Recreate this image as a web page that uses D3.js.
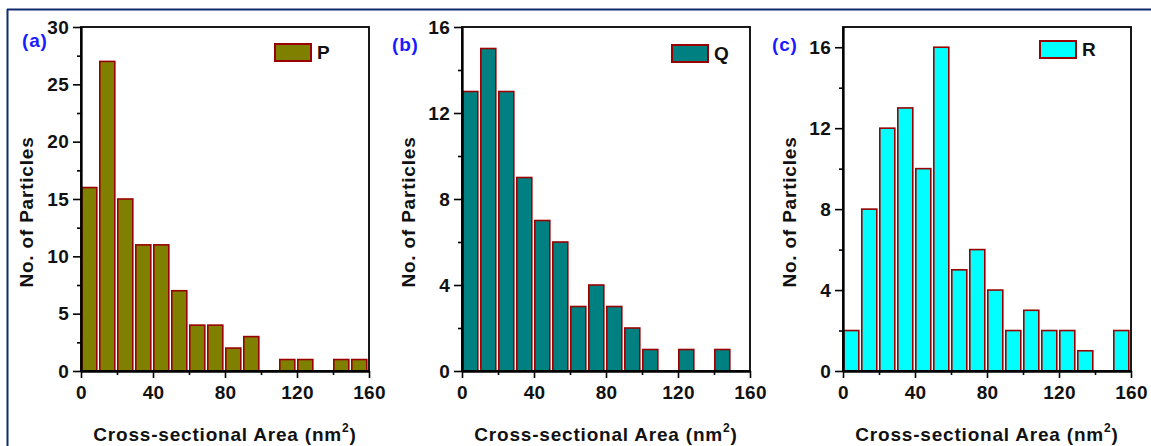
<!DOCTYPE html>
<html>
<head>
<meta charset="utf-8">
<script src="https://cdn.jsdelivr.net/npm/d3@7"></script>
<style>
  html, body { margin: 0; padding: 0; background: #fff; }
  svg { display: block; }
  text { font-family: 'Liberation Sans', Arial, sans-serif; font-weight: bold; letter-spacing: 0.8px; }
</style>
</head>
<body>
<svg id="chart"></svg>
<script>
'use strict'

// bin starts (nm^2), width 10
const binStarts = [0, 10, 20, 30, 40, 50, 60, 70, 80, 90, 100, 110, 120, 130, 140, 150]
const countsP = [16, 27, 15, 11, 11, 7, 4, 4, 2, 3, 0, 1, 1, 0, 1, 1]
const countsQ = [13, 15, 13, 9, 7, 6, 3, 4, 3, 2, 1, 0, 1, 0, 1, 0]
const countsR = [2, 8, 12, 13, 10, 16, 5, 6, 4, 2, 3, 2, 2, 1, 0, 2]
const xTicks = [0, 40, 80, 120, 160]
const xMinorTicks = [20, 60, 100, 140]
const yTicksP = [0, 5, 10, 15, 20, 25, 30]
const yMinorP = [2.5, 7.5, 12.5, 17.5, 22.5, 27.5]
const yTicksQR = [0, 4, 8, 12, 16]
const yMinorQR = [2, 6, 10, 14]
const seriesNames = ['P', 'Q', 'R']
const panelTags = ['(a)', '(b)', '(c)']

const width = 1151
const height = 446
const barStroke = '#990000'
const plotTop = 27
const plotBottom = 371
const fontSize = '19px'

const svg = d3.select('#chart')
  .attr('width', width)
  .attr('height', height)

// page frame lines
svg.append('line')
  .attr('x1', 7).attr('x2', width).attr('y1', 9.5).attr('y2', 9.5)
  .attr('stroke', '#0f2b6e').attr('stroke-width', 2)
svg.append('line')
  .attr('x1', 7.5).attr('x2', 7.5).attr('y1', 9).attr('y2', height)
  .attr('stroke', '#0f2b6e').attr('stroke-width', 2)

const panels = [
  { counts: countsP, fill: '#808000', yMax: 30, yTicks: yTicksP, yMinor: yMinorP, left: 81, right: 369, tagX: 22, tagY: 47, yLabelX: 26, legend: [275, 44] },
  { counts: countsQ, fill: '#008080', yMax: 16, yTicks: yTicksQR, yMinor: yMinorQR, left: 462, right: 750, tagX: 392, tagY: 51, yLabelX: 408, legend: [672, 45] },
  { counts: countsR, fill: '#00ffff', yMax: 17, yTicks: yTicksQR, yMinor: yMinorQR, left: 843, right: 1131, tagX: 772, tagY: 51, yLabelX: 789, legend: [1040, 41] }
]

panels.forEach((p, i) => drawPanel(p, i))

function drawPanel (p, i) {
  const g = svg.append('g')
  const x = d3.scaleLinear().domain([0, 160]).range([p.left, p.right])
  const y = d3.scaleLinear().domain([0, p.yMax]).range([plotBottom, plotTop])

  // bars
  g.selectAll('rect.bar')
    .data(binStarts.map((b, k) => ({ b, v: p.counts[k] })).filter(d => d.v > 0))
    .enter().append('rect')
    .attr('class', 'bar')
    .attr('x', d => x(d.b) + 0.8)
    .attr('width', d => x(d.b + 10) - x(d.b) - 3)
    .attr('y', d => y(d.v))
    .attr('height', d => y(0) - y(d.v))
    .attr('fill', p.fill)
    .attr('stroke', barStroke)
    .attr('stroke-width', 1.6)

  // frame
  g.append('rect')
    .attr('x', p.left).attr('y', plotTop)
    .attr('width', p.right - p.left).attr('height', plotBottom - plotTop)
    .attr('fill', 'none').attr('stroke', '#000').attr('stroke-width', 1.8)

  // axes
  const xAxis = g.append('g')
    .attr('transform', `translate(0,${plotBottom})`)
    .call(d3.axisBottom(x).tickValues(xTicks).tickSize(7).tickSizeOuter(0).tickPadding(8))
  const xMinor = g.append('g')
    .attr('transform', `translate(0,${plotBottom})`)
    .call(d3.axisBottom(x).tickValues(xMinorTicks).tickSize(4).tickSizeOuter(0).tickFormat(''))
  const yAxis = g.append('g')
    .attr('transform', `translate(${p.left},0)`)
    .call(d3.axisLeft(y).tickValues(p.yTicks).tickSize(8).tickSizeOuter(0).tickPadding(4))
  const yMinor = g.append('g')
    .attr('transform', `translate(${p.left},0)`)
    .call(d3.axisLeft(y).tickValues(p.yMinor).tickSize(4).tickSizeOuter(0).tickFormat(''))

  ;[xAxis, xMinor, yAxis, yMinor].forEach(a => {
    a.select('.domain').attr('stroke', '#000').attr('stroke-width', 1.8)
    a.selectAll('.tick line').attr('stroke', '#000').attr('stroke-width', 1.6)
    a.selectAll('.tick text')
      .attr('fill', '#111')
      .style('font-size', fontSize)
      .style('letter-spacing', '0.3px')
      .style('font-family', "'Liberation Sans', Arial, sans-serif")
      .style('font-weight', 'bold')
  })

  // axis titles
  g.append('text')
    .attr('transform', `translate(${p.yLabelX},${(plotTop + plotBottom) / 2 + 13}) rotate(-90)`)
    .attr('text-anchor', 'middle')
    .attr('dominant-baseline', 'central')
    .attr('fill', '#111')
    .style('font-size', fontSize)
    .text('No. of Particles')

  const xt = g.append('text')
    .attr('x', (p.left + p.right) / 2)
    .attr('y', 441)
    .attr('text-anchor', 'middle')
    .attr('fill', '#111')
    .style('font-size', fontSize)
  xt.append('tspan').text('Cross-sectional Area (nm')
  xt.append('tspan').attr('dy', -9).style('font-size', '12px').text('2')
  xt.append('tspan').attr('dy', 9).text(')')

  // panel tag
  g.append('text')
    .attr('x', p.tagX).attr('y', p.tagY)
    .attr('fill', '#1a1aff')
    .style('font-size', fontSize)
    .text(panelTags[i])

  // legend
  g.append('rect')
    .attr('x', p.legend[0]).attr('y', p.legend[1])
    .attr('width', 36).attr('height', 17)
    .attr('fill', p.fill)
    .attr('stroke', barStroke)
    .attr('stroke-width', 2)
  g.append('text')
    .attr('x', p.legend[0] + 42).attr('y', p.legend[1] + 15)
    .attr('fill', '#111')
    .style('font-size', fontSize)
    .text(seriesNames[i])
}
</script>
</body>
</html>
